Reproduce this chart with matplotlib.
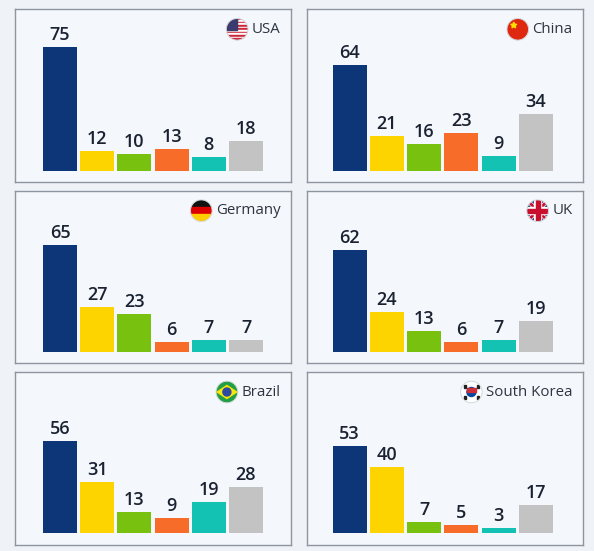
import numpy as np
import matplotlib
matplotlib.use("Agg")
import matplotlib.pyplot as plt
from matplotlib.patches import Circle, Rectangle, Polygon

# data
countries = ["USA", "China", "Germany", "UK", "Brazil", "South Korea"]
usa = [75, 12, 10, 13, 8, 18]
china = [64, 21, 16, 23, 9, 34]
germany = [65, 27, 23, 6, 7, 7]
uk = [62, 24, 13, 6, 7, 19]
brazil = [56, 31, 13, 9, 19, 28]
south_korea = [53, 40, 7, 5, 3, 17]
values = [usa, china, germany, uk, brazil, south_korea]

bar_colors = ["#0c3677", "#fed400", "#78c10f", "#f86c2a", "#14c2b3", "#c3c3c3"]
W, H = 594, 551
BG = "#eff3f8"
PANEL_BG = "#f4f7fb"
TXT = "#1a2232"

plt.rcParams['font.family'] = ['Open Sans', 'DejaVu Sans']

fig = plt.figure(figsize=(W / 100, H / 100), dpi=100)
fig.patch.set_facecolor(BG)

# panel boxes in pixels (left, top, width, height)
col_x = [15, 307.3]
col_w = [275.7, 275.4]
col_off = [28, 25.4]
row_y = [9.3, 190.7, 372]
ph = 172.5
base = 11.2      # px from panel bottom to bar baseline
px_per_unit = 1.652
step = 37.2
bar_w = 34

panels = []
for i, vals in enumerate(values):
    r, c = divmod(i, 2)
    x0, y0, w = col_x[c], row_y[r], col_w[c]
    ax = fig.add_axes([x0 / W, 1 - (y0 + ph) / H, w / W, ph / H])
    ax.set_facecolor(PANEL_BG)
    for s in ax.spines.values():
        s.set_color("#8e959e")
        s.set_linewidth(1)
    left = col_off[c] + bar_w / 2
    ax.set_xlim(-left / step, (w - left) / step)
    ax.set_ylim(-base / px_per_unit, (ph - base) / px_per_unit)
    x = np.arange(len(vals))
    ax.bar(x, vals, width=bar_w / step, color=bar_colors)
    for xi, v in zip(x, vals):
        ax.text(xi, v + 1.8, str(v), ha="center", va="bottom",
                fontsize=13, fontweight="semibold", color=TXT)
    ax.set_xticks([])
    ax.set_yticks([])
    t = ax.text(1 - 10 / w, 1 - 20 / ph, countries[i], transform=ax.transAxes,
                ha="right", va="center", fontsize=10.8, color="#2e3540")
    panels.append((ax, t))

# overlay for the round flags, pixel coordinates
ov = fig.add_axes([0, 0, 1, 1])
ov.set_xlim(0, W)
ov.set_ylim(H, 0)
ov.axis("off")
ov.patch.set_alpha(0)

R = 10.8


def flag(name, cx, cy):
    clip = Circle((cx, cy), R, transform=ov.transData)
    parts = []
    if name == "USA":
        for k in range(13):
            col = "#c8283a" if k % 2 == 0 else "white"
            parts.append(Rectangle((cx - R, cy - R + k * 2 * R / 13), 2 * R, 2 * R / 13, color=col))
        parts.append(Rectangle((cx - R, cy - R), R, R * 7 / 13 * 2, color="#3c3b6e"))
    elif name == "China":
        parts.append(Rectangle((cx - R, cy - R), 2 * R, 2 * R, color="#de2910"))
        ang = np.linspace(-np.pi / 2, 3 * np.pi / 2, 11)[:-1]
        rr = np.where(np.arange(10) % 2 == 0, 3.2, 1.3)
        pts = np.c_[cx - 4 + rr * np.cos(ang), cy - 4 + rr * np.sin(ang)]
        parts.append(Polygon(pts, color="#ffde00"))
    elif name == "Germany":
        for k, col in enumerate(["#111111", "#dd0000", "#ffce00"]):
            parts.append(Rectangle((cx - R, cy - R + k * 2 * R / 3), 2 * R, 2 * R / 3, color=col))
    elif name == "UK":
        parts.append(Rectangle((cx - R, cy - R), 2 * R, 2 * R, color="#012169"))
        for sgn in (1, -1):
            parts.append(Polygon([(cx - R - 2, cy - sgn * (R + 2) - 2), (cx - R - 2, cy - sgn * (R + 2) + 2),
                                  (cx + R + 2, cy + sgn * (R + 2) + 2), (cx + R + 2, cy + sgn * (R + 2) - 2)],
                                 color="white"))
            parts.append(Polygon([(cx - R - 2, cy - sgn * (R + 2) - 1), (cx - R - 2, cy - sgn * (R + 2) + 1),
                                  (cx + R + 2, cy + sgn * (R + 2) + 1), (cx + R + 2, cy + sgn * (R + 2) - 1)],
                                 color="#c8102e"))
        parts.append(Rectangle((cx - R, cy - 3.5), 2 * R, 7, color="white"))
        parts.append(Rectangle((cx - 3.5, cy - R), 7, 2 * R, color="white"))
        parts.append(Rectangle((cx - R, cy - 2), 2 * R, 4, color="#c8102e"))
        parts.append(Rectangle((cx - 2, cy - R), 4, 2 * R, color="#c8102e"))
    elif name == "Brazil":
        parts.append(Rectangle((cx - R, cy - R), 2 * R, 2 * R, color="#229e45"))
        parts.append(Polygon([(cx - R + 1, cy), (cx, cy - 6.5), (cx + R - 1, cy), (cx, cy + 6.5)], color="#f8e509"))
        parts.append(Circle((cx, cy), 4, color="#2b49a3"))
    elif name == "South Korea":
        parts.append(Rectangle((cx - R, cy - R), 2 * R, 2 * R, color="white"))
        parts.append(Circle((cx, cy), 4.5, color="#0047a0"))
        parts.append(Rectangle((cx - 4.5, cy - 4.5), 9, 4.5, color="#cd2e3a"))
        for dx, dy in [(-6.5, -5.5), (6.5, -5.5), (-6.5, 5.5), (6.5, 5.5)]:
            parts.append(Rectangle((cx + dx - 1.2, cy + dy - 1.2), 2.4, 2.4, color="#222222"))
    for p in parts:
        ov.add_patch(p)
        p.set_clip_path(clip)
    ov.add_patch(Circle((cx, cy), R, fill=False, ec="#d3d8de", lw=0.7))


fig.canvas.draw()
renderer = fig.canvas.get_renderer()
for (ax, t), name in zip(panels, countries):
    bb = t.get_window_extent(renderer)
    cx = bb.x0 - 4 - R
    cy = H - (bb.y0 + bb.y1) / 2
    flag(name, cx, cy)

fig.savefig("out.png", dpi=100, facecolor=BG)
